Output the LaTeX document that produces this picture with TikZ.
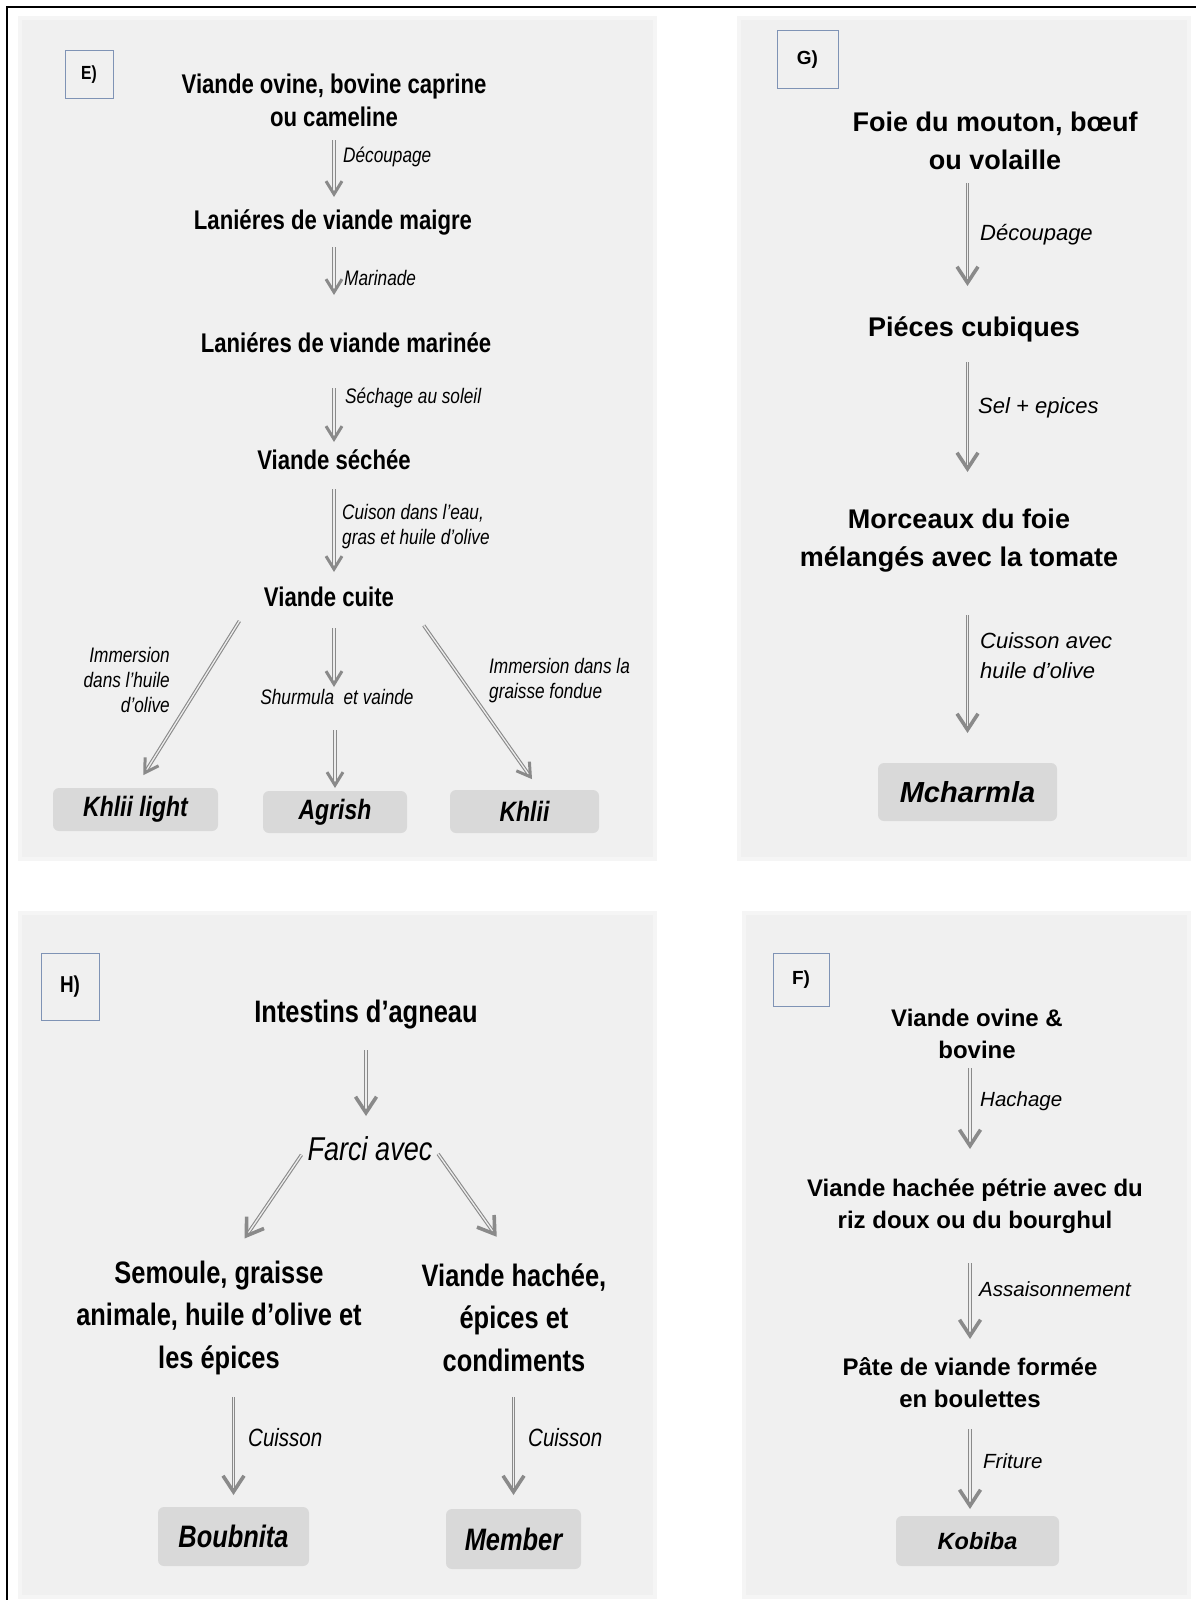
\documentclass[tikz,border=0pt]{standalone}
\usepackage{fontspec}
\setmainfont{Liberation Sans}
\newfontfamily\narrowsf{Liberation Sans}[FakeStretch=0.82]
\usetikzlibrary{arrows.meta}

\definecolor{panelgray}{HTML}{F0F0F0}
\definecolor{edgegray}{HTML}{F5F5F5}
\definecolor{boxgray}{HTML}{D9D9D9}
\definecolor{arrowgray}{HTML}{8A8A8A}
\definecolor{tagblue}{HTML}{7F93B5}

\tikzset{
  panel/.style={fill=panelgray, draw=edgegray, line width=4},
  tag/.style={draw=tagblue, line width=1, fill=panelgray, inner sep=0,
    font=\bfseries\fontsize{19}{20}\selectfont},
  prod/.style={fill=boxgray, rounded corners=6, inner sep=0},
  flow/.style={draw=arrowgray, line width=1.1, double=white!85!arrowgray, double distance=1.3},
  eflow/.style={flow, -{Straight Barb[length=13, width=16, line width=3]}},
  gflow/.style={flow, -{Straight Barb[length=16, width=21, line width=3.6]}},
  % panel E and H: narrow face
  estep/.style={font=\narrowsf\bfseries\fontsize{27}{33}\selectfont, align=center, inner sep=2},
  elbl/.style={font=\narrowsf\itshape\fontsize{21}{25}\selectfont, inner sep=0},
  eprod/.style={prod, font=\narrowsf\bfseries\itshape\fontsize{28}{30}\selectfont},
  hstep/.style={font=\narrowsf\bfseries\fontsize{31}{42.5}\selectfont, align=center, inner sep=2},
  hlbl/.style={font=\narrowsf\itshape\fontsize{25}{30}\selectfont, inner sep=0},
  hprod/.style={prod, font=\narrowsf\bfseries\itshape\fontsize{31}{33}\selectfont},
  % panel G and F: full width face
  gstep/.style={font=\bfseries\fontsize{27}{37.5}\selectfont, align=center, inner sep=2},
  glbl/.style={font=\itshape\fontsize{22}{30}\selectfont, inner sep=0},
  gprod/.style={prod, font=\bfseries\itshape\fontsize{29}{30}\selectfont},
  fstep/.style={font=\bfseries\fontsize{24}{32}\selectfont, align=center, inner sep=2},
  flbl/.style={font=\itshape\fontsize{20.5}{25}\selectfont, inner sep=0},
  fprod/.style={prod, font=\bfseries\itshape\fontsize{23.5}{25}\selectfont}
}

\begin{document}
\begin{tikzpicture}[x=1pt, y=-1pt]
  \useasboundingbox (0,0) rectangle (1196,1600);

  \draw[panel] (20,18) rectangle (655,859);     % E
  \draw[panel] (739,18) rectangle (1189,859);   % G
  \draw[panel] (20,913) rectangle (655,1597);   % H
  \draw[panel] (744,913) rectangle (1189,1597); % F
  \draw[line width=2] (7,1600) -- (7,7) -- (1196,7);

  % E) dried meat
  \node[tag, font=\narrowsf\bfseries\fontsize{19}{20}\selectfont, minimum width=48, minimum height=48] (Etag) at (89,75) {E)};
  \node[estep] (E1) at (334,100) {Viande ovine, bovine caprine\\ou cameline};
  \node[estep] (E2) at (333,222) {Laniéres de viande maigre};
  \node[estep] (E3) at (346,343) {Laniéres de viande marinée};
  \node[estep] (E4) at (334,460) {Viande séchée};
  \node[estep] (E5) at (329,597) {Viande cuite};
  \node[elbl] (E6) at (337,697) {Shurmula~ et vainde};
  \node[eprod, minimum width=165, minimum height=43] (E7) at (135.5,809.5) {Khlii light};
  \node[eprod, minimum width=144, minimum height=42] (E9) at (335,812) {Agrish};
  \node[eprod, minimum width=149, minimum height=43] (E8) at (524.5,811.5) {Khlii};

  \node[elbl, anchor=west] (Ecut) at (343,157) {Découpage};
  \node[elbl, anchor=west] (Emar) at (344,278) {Marinade};
  \node[elbl, anchor=west] (Esun) at (345,398) {Séchage au soleil};
  \node[elbl, anchor=west, align=left] (Ecook) at (342,527) {Cuison dans l’eau,\\gras et huile d’olive};
  \node[elbl, anchor=east, align=right] (Eoil) at (170,680) {Immersion\\dans l’huile\\d’olive};
  \node[elbl, anchor=west, align=left] (Efat) at (489,680.5) {Immersion dans la\\graisse fondue};

  \draw[eflow, shorten <=40pt, shorten >=25pt] (E1.center -| E4) -- (E2.center -| E4);
  \draw[eflow, shorten <=25pt, shorten >=48pt] (E2.center -| E4) -- (E3.center -| E4);
  \draw[eflow, shorten <=45pt, shorten >=18pt] (E3.center -| E4) -- (E4.center);
  \draw[eflow, shorten <=29pt, shorten >=25pt] (E4.center) -- (E5.center -| E4);
  \draw[eflow, shorten <=31pt, shorten >=10pt] (E5.center -| E4) -- (E6.center -| E4);
  \draw[eflow, shorten <=33pt, shorten >=24pt] (E6.center -| E9) -- (E9.center);
  \draw[eflow, shorten <=14pt, shorten >=15pt] ([xshift=-15]E5.south west) -- (E7.north);
  \draw[eflow, shorten <=20pt, shorten >=13pt] ([xshift=16]E5.south east) -- ([xshift=15]E8.north);

  % G) liver
  \node[tag, minimum width=61, minimum height=58] (Gtag) at (807.5,60) {G)};
  \node[gstep] (G1) at (995,141) {Foie du mouton, bœuf\\ou volaille};
  \node[gstep] (G2) at (974,329) {Piéces cubiques};
  \node[gstep] (G3) at (959,540.5) {Morceaux du foie\\mélangés avec la tomate};
  \node[gprod, minimum width=179, minimum height=58] (G4) at (967.5,792) {Mcharmla};

  \node[glbl, anchor=west] (Gcut) at (980,235) {Découpage};
  \node[glbl, anchor=west] (Gsalt) at (978,408) {Sel + epices};
  \node[glbl, anchor=west, align=left] (Gcook) at (980,656) {Cuisson avec\\huile d’olive};

  \draw[gflow, shorten <=42pt, shorten >=43pt] (G1.center -| G4) -- (G2.center -| G4);
  \draw[gflow, shorten <=33pt, shorten >=68.5pt] (G2.center -| G4) -- (G3.center -| G4);
  \draw[gflow, shorten <=74.5pt, shorten >=59pt] (G3.center -| G4) -- (G4.center);

  % H) stuffed intestines
  \node[tag, font=\narrowsf\bfseries\fontsize{23}{24}\selectfont, minimum width=58, minimum height=67] (Htag) at (70,986.5) {H)};
  \node[hstep] (H1) at (366,1015) {Intestins d’agneau};
  \node[font=\narrowsf\itshape\fontsize{33}{35}\selectfont, inner sep=2] (H2) at (370,1149) {Farci avec};
  \node[hstep] (H3) at (219,1317.5) {Semoule, graisse\\animale, huile d’olive et\\les épices};
  \node[hstep] (H4) at (514,1317.5) {Viande hachée,\\épices et\\condiments};
  \node[hprod, minimum width=151, minimum height=59] (H5) at (233.5,1536.5) {Boubnita};
  \node[hprod, minimum width=135, minimum height=60] (H6) at (513.5,1539) {Member};

  \node[hlbl, anchor=west] (Hcook1) at (248,1438) {Cuisson};
  \node[hlbl, anchor=west] (Hcook2) at (528,1438) {Cuisson};

  \draw[gflow, shorten <=35pt, shorten >=33pt] (H1.center) -- (H2.center -| H1);
  \draw[gflow, shorten <=7pt, shorten >=24pt] (H2.west) -- ([xshift=12]H3.north);
  \draw[gflow, shorten <=6pt, shorten >=30pt] (H2.east) -- (H4.north);
  \draw[gflow, shorten <=79.5pt, shorten >=41.5pt] (H3.center -| H5) -- (H5.center);
  \draw[gflow, shorten <=79.5pt, shorten >=44pt] (H4.center -| H6) -- (H6.center);

  % F) meatballs
  \node[tag, minimum width=56, minimum height=53] (Ftag) at (801,979.5) {F)};
  \node[fstep] (F1) at (977,1034) {Viande ovine \&\\bovine};
  \node[fstep] (F2) at (975,1206) {Viande hachée pétrie avec du\\riz doux ou du bourghul};
  \node[fstep] (F3) at (970,1382.5) {Pâte de viande formée\\en boulettes};
  \node[fprod, minimum width=163, minimum height=50] (F4) at (977.5,1541) {Kobiba};

  \node[flbl, anchor=west] (Fmince) at (980,1101) {Hachage};
  \node[flbl, anchor=west] (Fseason) at (979,1289) {Assaisonnement};
  \node[flbl, anchor=west] (Ffry) at (983,1461) {Friture};

  \draw[gflow, shorten <=34pt, shorten >=57pt] (F1.center -| F3) -- (F2.center -| F3);
  \draw[gflow, shorten <=57pt, shorten >=43.5pt] (F2.center -| F3) -- (F3.center);
  \draw[gflow, shorten <=46.5pt, shorten >=32pt] (F3.center) -- (F4.center -| F3);
\end{tikzpicture}
\end{document}
